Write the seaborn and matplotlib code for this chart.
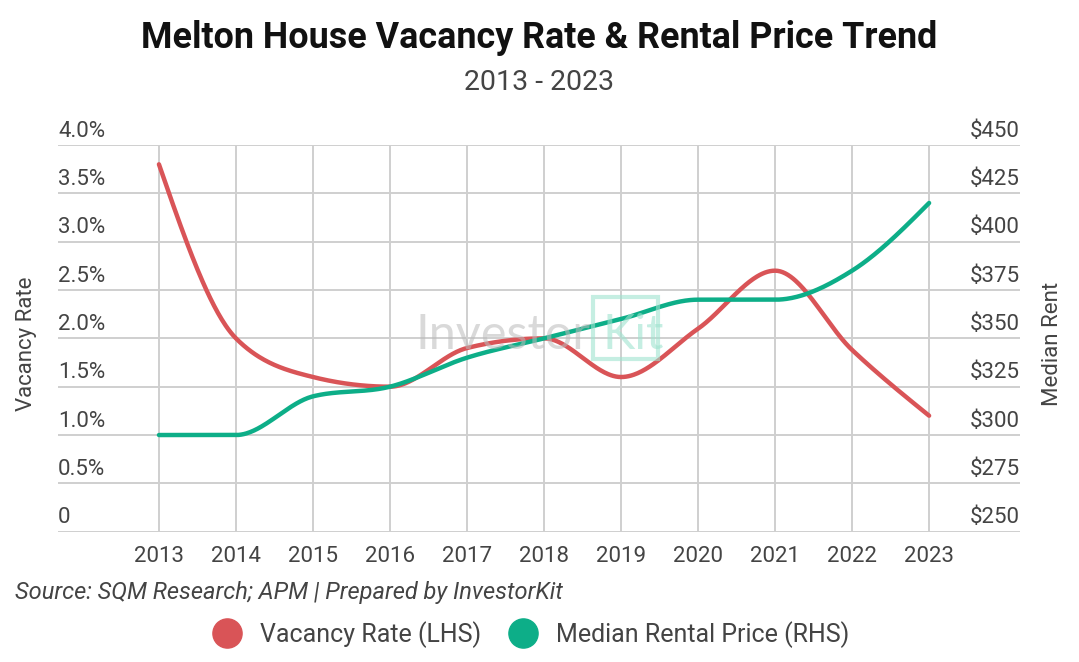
import numpy as np
import pandas as pd
import matplotlib
matplotlib.use('Agg')
import matplotlib.pyplot as plt
import seaborn as sns
from matplotlib.lines import Line2D
from matplotlib.patches import Rectangle

years = [2013, 2014, 2015, 2016, 2017, 2018, 2019, 2020, 2021, 2022, 2023]
vacancy = [3.8, 2.0, 1.6, 1.5, 1.9, 2.0, 1.6, 2.1, 2.7, 1.88, 1.2]
rent = [300, 300, 320, 325, 340, 350, 360, 370, 370, 385, 420]

left_ticks = [0, 0.5, 1.0, 1.5, 2.0, 2.5, 3.0, 3.5, 4.0]
left_labels = ['0', '0.5%', '1.0%', '1.5%', '2.0%', '2.5%', '3.0%', '3.5%', '4.0%']
right_ticks = [250, 275, 300, 325, 350, 375, 400, 425, 450]
right_labels = ['$250', '$275', '$300', '$325', '$350', '$375', '$400', '$425', '$450']

RED = '#D95457'
GREEN = '#0DAE88'
GRID = '#CFCFCF'
TXT = '#444444'


def monotone_curve(x, y, n=60):
    # monotone cubic (same idea as d3 curveMonotoneX), only for drawing the line
    x = np.asarray(x, float)
    y = np.asarray(y, float)
    h = np.diff(x)
    s = np.diff(y) / h
    m = np.zeros_like(y)
    for k in range(1, len(y) - 1):
        p = (s[k - 1] * h[k] + s[k] * h[k - 1]) / (h[k - 1] + h[k])
        m[k] = (np.sign(s[k - 1]) + np.sign(s[k])) * min(abs(s[k - 1]), abs(s[k]), 0.5 * abs(p))
    m[0] = (3 * s[0] - m[1]) / 2
    m[-1] = (3 * s[-1] - m[-2]) / 2
    xs, ys = [], []
    for k in range(len(h)):
        t = np.linspace(0, 1, n, endpoint=(k == len(h) - 1))
        h00 = 2 * t**3 - 3 * t**2 + 1
        h10 = t**3 - 2 * t**2 + t
        h01 = -2 * t**3 + 3 * t**2
        h11 = t**3 - t**2
        xs.append(x[k] + t * h[k])
        ys.append(h00 * y[k] + h10 * h[k] * m[k] + h01 * y[k + 1] + h11 * h[k] * m[k + 1])
    return np.concatenate(xs), np.concatenate(ys)


sns.set_theme(style='white')
plt.rcParams['font.family'] = ['Roboto', 'DejaVu Sans']

fig = plt.figure(figsize=(10.79, 6.62), dpi=100)
ax = fig.add_axes([0.0538, 0.1968, 0.8915, 0.5842])
ax2 = ax.twinx()

vx, vy = monotone_curve(years, vacancy)
rx, ry = monotone_curve(years, rent)
vac_df = pd.DataFrame({'year': vx, 'value': vy})
rent_df = pd.DataFrame({'year': rx, 'value': ry})

sns.lineplot(data=vac_df, x='year', y='value', color=RED, lw=3.2, ax=ax, sort=False, zorder=3)
sns.lineplot(data=rent_df, x='year', y='value', color=GREEN, lw=3.2, ax=ax2, sort=False, zorder=4)

ax.set_xlim(2011.69, 2024.18)
ax.set_ylim(0, 4.0)
ax2.set_ylim(250, 450)

for a in (ax, ax2):
    for sp in a.spines.values():
        sp.set_visible(False)
    a.set_xlabel('')
    a.set_ylabel('')
    a.set_yticks([])

# grid
for v in left_ticks:
    ax.axhline(v, color=GRID, lw=1.4, zorder=0)
for yr in years:
    ax.axvline(yr, color=GRID, lw=1.4, zorder=0)

ax.set_xticks(years)
ax.set_xticklabels([str(y) for y in years], fontsize=16, color=TXT)
ax.tick_params(axis='x', length=0, pad=10)

ytr = ax.get_yaxis_transform()
for v, lab in zip(left_ticks, left_labels):
    ax.text(0, v + 0.035, lab, transform=ytr, ha='left', va='bottom', fontsize=16, color=TXT)
ytr2 = ax2.get_yaxis_transform()
for v, lab in zip(right_ticks, right_labels):
    ax2.text(1, v + 1.75, lab, transform=ytr2, ha='right', va='bottom', fontsize=16, color=TXT)

fig.text(0.025, 0.48, 'Vacancy Rate', rotation=90, ha='center', va='center', fontsize=16, color=TXT)
fig.text(0.975, 0.48, 'Median Rent', rotation=90, ha='center', va='center', fontsize=16, color=TXT)

# watermark
fig.text(0.385, 0.494, 'Investor', fontsize=35, color='#BBBBBB', alpha=0.55,
         family=['Lato', 'DejaVu Sans'], ha='left', va='center', zorder=1)
fig.text(0.558, 0.494, 'Kit', fontsize=35, color='#9FE3CF', alpha=0.6,
         family=['Lato', 'DejaVu Sans'], ha='left', va='center', zorder=1)
fig.patches.append(Rectangle((0.550, 0.457), 0.060, 0.095, transform=fig.transFigure,
                             fill=False, edgecolor='#9FE3CF', alpha=0.6, lw=3, zorder=1))

fig.text(0.5, 0.943, 'Melton House Vacancy Rate & Rental Price Trend', ha='center', va='center',
         fontsize=25.8, fontweight='bold', color='#111111')
fig.text(0.5, 0.875, '2013 - 2023', ha='center', va='center', fontsize=20.5, color=TXT)

fig.text(0.014, 0.105, 'Source: SQM Research; APM | Prepared by InvestorKit', ha='left', va='center',
         fontsize=17, style='italic', color=TXT)

handles = [
    Line2D([], [], marker='o', linestyle='', markersize=21, markerfacecolor=RED, markeredgecolor=RED),
    Line2D([], [], marker='o', linestyle='', markersize=21, markerfacecolor=GREEN, markeredgecolor=GREEN),
]
fig.legend(handles, ['Vacancy Rate (LHS)', 'Median Rental Price (RHS)'], loc='center',
           bbox_to_anchor=(0.4917, 0.042), ncol=2, frameon=False, fontsize=18,
           handlelength=1.2, handletextpad=0.7, columnspacing=1.1, labelcolor=TXT)

fig.savefig('out.png', dpi=100)
